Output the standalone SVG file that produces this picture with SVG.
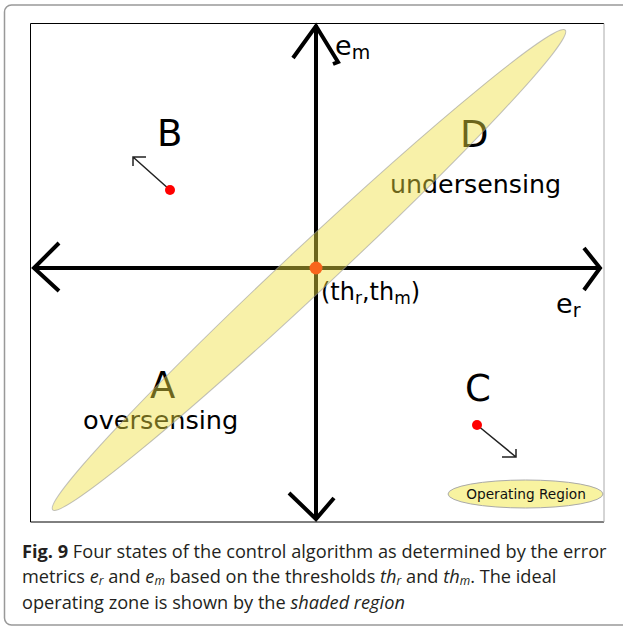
<svg xmlns="http://www.w3.org/2000/svg" width="623" height="627" viewBox="0 0 623 627">
<style>
.ax{stroke:#000;stroke-width:4;fill:none;stroke-linecap:butt;stroke-linejoin:miter}
.lbl{font-family:"DejaVu Sans",sans-serif;fill:#000}
.big{font-size:37px}
.cap{font-family:"Open Sans","Noto Sans",sans-serif;font-size:18.2px;fill:#231f20}
.it{font-style:italic}
.sub{font-style:italic;font-size:12px}
.thin{stroke:#222;stroke-width:1.5;fill:none}
.dot{fill:#ff0000}
</style>
<rect width="623" height="627" fill="#fff"/>
<rect id="frame" x="4.5" y="5" width="700" height="620" rx="7" fill="none" stroke="#999" stroke-width="1.5"/>
<g id="plot">
<rect x="30.5" y="23.5" width="573.5" height="498.5" fill="#fff" stroke="none"/>
<path d="M30.5 522V23.5H604" fill="none" stroke="#000" stroke-width="1"/>
<path d="M30.5 522H604" fill="none" stroke="#000" stroke-width="1"/>
<path d="M604 23.5V522" fill="none" stroke="#aaa" stroke-width="1"/>
</g>
<g id="labels">
<text class="lbl big" x="157" y="146">B</text>
<text class="lbl big" x="460" y="147">D</text>
<text class="lbl big" x="150" y="398">A</text>
<text class="lbl big" x="465" y="401">C</text>
<text class="lbl" x="390" y="193" font-size="25.3">undersensing</text>
<text class="lbl" x="83" y="429" font-size="25.6">oversensing</text>
</g>
<g id="connectors">
<path class="ax" d="M33 268H600"/>
<path class="ax" d="M59 243L34 268L59 291"/>
<path class="ax" d="M584 248L600 268L584 290"/>
<path class="ax" d="M316 25V520"/>
<path class="ax" d="M293 58L316 26L338 62L333 64"/>
<path class="ax" d="M289 493L316 519L334 498"/>
<path class="thin" d="M170 190L133 157M146 157H133V166"/>
<path class="thin" d="M477 425L516 457M502 457H516V449"/>
</g>
<g id="points">
<circle class="dot" cx="170" cy="190" r="5"/>
<circle class="dot" cx="477" cy="425" r="5"/>
<circle id="origin" class="dot" cx="316" cy="268" r="6.5"/>
</g>
<g id="axis-labels">
<text class="lbl" x="335" y="55" font-size="27">e<tspan font-size="19" dy="4">m</tspan></text>
<text class="lbl" x="556" y="313" font-size="27">e<tspan font-size="19" dy="4">r</tspan></text>
<text class="lbl" x="321" y="300" font-size="24">(th<tspan font-size="17" dy="4">r</tspan><tspan dy="-4">,th</tspan><tspan font-size="17" dy="4">m</tspan><tspan dy="-4">)</tspan></text>
</g>
<g id="shaded-region">
<ellipse cx="309" cy="270" rx="351" ry="23" transform="rotate(-43.1 309 270)" fill="#f0e040" fill-opacity="0.45" stroke="#999" stroke-opacity="0.6" stroke-width="1"/>
</g>
<g id="legend">
<ellipse cx="525.5" cy="494" rx="77.5" ry="14" fill="#f8f3a0" stroke="#aaa" stroke-width="1"/>
<text x="526" y="498.5" text-anchor="middle" font-family="DejaVu Sans,sans-serif" font-size="13.7" fill="#111">Operating Region</text>
</g>
<g id="caption">
<text class="cap" x="22" y="558"><tspan font-weight="bold">Fig. 9</tspan> Four states of the control algorithm as determined by the error</text>
<text class="cap" x="22" y="583">metrics <tspan class="it">e</tspan><tspan class="sub" dy="2">r</tspan><tspan dy="-2"> and </tspan><tspan class="it">e</tspan><tspan class="sub" dy="2">m</tspan><tspan dy="-2"> based on the thresholds </tspan><tspan class="it">th</tspan><tspan class="sub" dy="2">r</tspan><tspan dy="-2"> and </tspan><tspan class="it">th</tspan><tspan class="sub" dy="2">m</tspan><tspan dy="-2">. The ideal</tspan></text>
<text class="cap" x="22" y="608.5">operating zone is shown by the <tspan class="it">shaded region</tspan></text>
</g>
</svg>
